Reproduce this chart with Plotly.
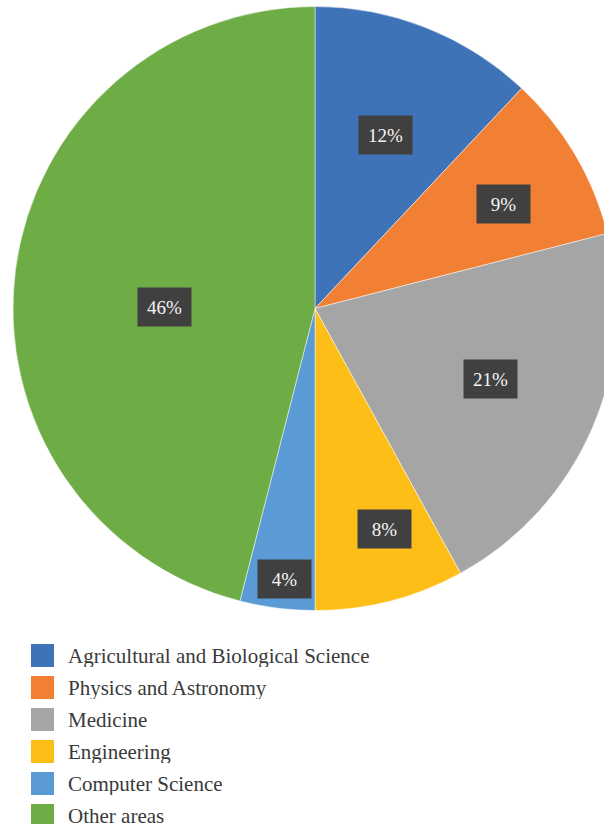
import math
import plotly.graph_objects as go

# Share of publications by subject area (percent)
categories = [
    "Agricultural and Biological Science",
    "Physics and Astronomy",
    "Medicine",
    "Engineering",
    "Computer Science",
    "Other areas",
]
shares = [12, 9, 21, 8, 4, 46]
colors = ["#3E73B8", "#F28034", "#A5A5A5", "#FDBF17", "#5B9BD5", "#6EAC46"]

# Label placement inside each slice: fraction of the slice's angular span
# (measured clockwise from its start) and fraction of the radius.
label_angle_frac = [0.51, 0.55, 0.48, 0.39, 0.45, 0.46]
label_radius_frac = [0.62, 0.715, 0.627, 0.765, 0.90, 0.50]

W, H = 630, 824
CX, CY, R = 315.0, 308.5, 302.0
FONT = "Liberation Serif"


def px(x):
    return x / W


def py(y):
    return 1 - y / H


fig = go.Figure(
    go.Pie(
        labels=categories,
        values=shares,
        sort=False,
        direction="clockwise",
        rotation=0,
        marker=dict(colors=colors, line=dict(color="rgba(255,255,255,0.6)", width=0.8)),
        textinfo="none",
        hoverinfo="label+percent",
        showlegend=False,
        domain=dict(x=[px(CX - R), px(CX + R)], y=[py(CY + R), py(CY - R)]),
    )
)

annotations = []
shapes = []

# Percentage labels in dark boxes, placed from each slice's angular extent
total = sum(shares)
start = 0.0
for v, af, rf in zip(shares, label_angle_frac, label_radius_frac):
    span = 360.0 * v / total
    ang = math.radians(start + af * span)
    lx = CX + rf * R * math.sin(ang)
    ly = CY - rf * R * math.cos(ang)
    annotations.append(
        dict(
            x=px(lx), y=py(ly), xref="paper", yref="paper",
            text=f"{v}%", showarrow=False,
            xanchor="center", yanchor="middle",
            width=53, height=38, borderpad=0,
            bgcolor="#404040",
            font=dict(family=FONT, size=19, color="#f4f4f4"),
        )
    )
    start += span

# Legend: coloured squares with category names
for i, (name, col) in enumerate(zip(categories, colors)):
    yc = 655.5 + 32 * i
    shapes.append(
        dict(
            type="rect", xref="paper", yref="paper",
            x0=px(31), x1=px(54), y0=py(yc + 11.5), y1=py(yc - 11.5),
            fillcolor=col, line=dict(width=0),
        )
    )
    annotations.append(
        dict(
            x=px(67), y=py(yc), xref="paper", yref="paper",
            text=name, showarrow=False,
            xanchor="left", yanchor="middle", height=22, borderpad=0,
            font=dict(family=FONT, size=21, color="#3a3a3a"),
        )
    )

fig.update_layout(
    width=W,
    height=H,
    autosize=False,
    margin=dict(l=0, r=0, t=0, b=0),
    paper_bgcolor="white",
    plot_bgcolor="white",
    annotations=annotations,
    shapes=shapes,
)

fig.write_html(
    "out.html",
    config={"displayModeBar": False},
    post_script="document.documentElement.style.overflow='hidden';document.body.style.overflow='hidden';document.body.style.margin='0';",
)
